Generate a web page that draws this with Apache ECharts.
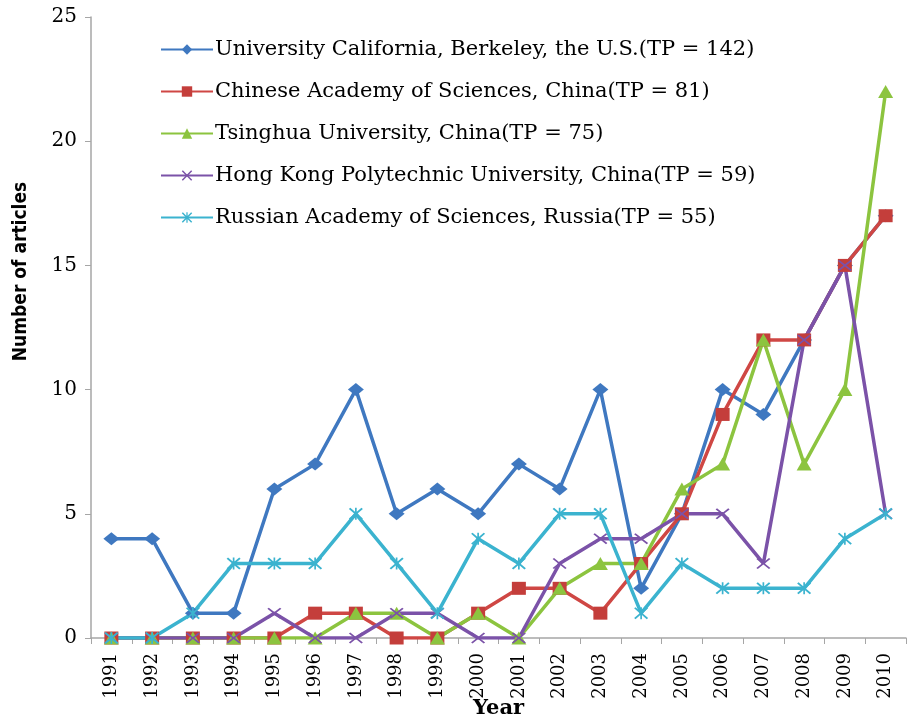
<!DOCTYPE html>
<html>
<head>
<meta charset="utf-8">
<script src="https://cdn.jsdelivr.net/npm/echarts@6/dist/echarts.min.js"></script>
<style>
html, body { margin: 0; padding: 0; background: #fff; }
#main { width: 912px; height: 724px; }
</style>
</head>
<body>
<div id="main"></div>
<script>
var years = ["1991", "1992", "1993", "1994", "1995", "1996", "1997", "1998", "1999", "2000",
	"2001", "2002", "2003", "2004", "2005", "2006", "2007", "2008", "2009", "2010"];

var berkeley = [4, 4, 1, 1, 6, 7, 10, 5, 6, 5, 7, 6, 10, 2, 5, 10, 9, 12, 15, 17];
var cas      = [0, 0, 0, 0, 0, 1, 1, 0, 0, 1, 2, 2, 1, 3, 5, 9, 12, 12, 15, 17];
var tsinghua = [0, 0, 0, 0, 0, 0, 1, 1, 0, 1, 0, 2, 3, 3, 6, 7, 12, 7, 10, 22];
var polyu    = [0, 0, 0, 0, 1, 0, 0, 1, 1, 0, 0, 3, 4, 4, 5, 5, 3, 12, 15, 5];
var russian  = [0, 0, 1, 3, 3, 3, 5, 3, 1, 4, 3, 5, 5, 1, 3, 2, 2, 2, 4, 5];

var seriesNames = [
	"University California, Berkeley, the U.S.(TP = 142)",
	"Chinese Academy of Sciences, China(TP = 81)",
	"Tsinghua University, China(TP = 75)",
	"Hong Kong Polytechnic University, China(TP = 59)",
	"Russian Academy of Sciences, Russia(TP = 55)"
];

var yTicks = [0, 5, 10, 15, 20, 25];

var serif = "'DejaVu Serif', 'Liberation Serif', serif";
// x mark and asterisk drawn as filled outlines
var crossPath = "path://M0,1L1,0L5,4L9,0L10,1L6,5L10,9L9,10L5,6L1,10L0,9L4,5Z";
var starPath = "path://M0,1L1,0L5,4L9,0L10,1L6,5L10,9L9,10L5,6L1,10L0,9L4,5Z M4.4,0L5.6,0L5.6,10L4.4,10Z";

function mkSeries(name, data, color, symbol, size, symColor){
	return {
		name: name,
		type: "line",
		data: data,
		symbol: symbol,
		symbolSize: size,
		showAllSymbol: true,
		lineStyle: {color: color, width: 3.5},
		itemStyle: {color: symColor || color},
		emphasis: {disabled: true},
		animation: false
	};
}

var chart = echarts.init(document.getElementById("main"));
chart.setOption({
	backgroundColor: "#fff",
	grid: {left: 91, right: 6, top: 17, bottom: 86, outerBoundsMode: "none"},
	legend: {
		orient: "vertical",
		left: 155,
		top: 34,
		itemWidth: 52,
		itemHeight: 13,
		itemGap: 21,
		textStyle: {fontFamily: serif, fontSize: 21, color: "#000", padding: [0, 0, 0, -3]},
		data: seriesNames
	},
	xAxis: {
		type: "category",
		data: years,
		boundaryGap: true,
		axisLine: {lineStyle: {color: "#a6a6a6", width: 1.5}},
		axisTick: {show: true, length: 6, lineStyle: {color: "#a6a6a6"}},
		axisLabel: {rotate: 90, fontFamily: serif, fontSize: 18, color: "#000", margin: 15},
		name: "Year",
		nameLocation: "middle",
		nameGap: 60,
		nameMoveOverlap: false,
		nameTextStyle: {fontFamily: serif, fontSize: 21, fontWeight: "bold", color: "#000"}
	},
	yAxis: {
		type: "value",
		min: yTicks[0],
		max: yTicks[yTicks.length - 1],
		interval: 5,
		splitLine: {show: false},
		axisLine: {show: true, lineStyle: {color: "#a6a6a6", width: 1.5}},
		axisTick: {show: true, length: 6, lineStyle: {color: "#a6a6a6"}},
		axisLabel: {fontFamily: serif, fontSize: 20, color: "#000", margin: 14},
		name: "Number of articles",
		nameLocation: "middle",
		nameGap: 60,
		nameMoveOverlap: false,
		nameTextStyle: {fontFamily: "'Liberation Sans Narrow', 'DejaVu Sans Condensed', sans-serif",
			fontSize: 19, fontWeight: "bold", color: "#000", padding: [0, 0, 0, 112]}
	},
	series: [
		mkSeries(seriesNames[0], berkeley, "#3f78c0", "diamond", [16, 13]),
		mkSeries(seriesNames[1], cas, "#cf4744", "rect", [14, 13], "#c43e3b"),
		mkSeries(seriesNames[2], tsinghua, "#8cc43f", "triangle", [15, 13]),
		mkSeries(seriesNames[3], polyu, "#7b52a8", crossPath, [14, 11]),
		mkSeries(seriesNames[4], russian, "#3bb3cf", starPath, [14, 12])
	]
});
</script>
</body>
</html>
